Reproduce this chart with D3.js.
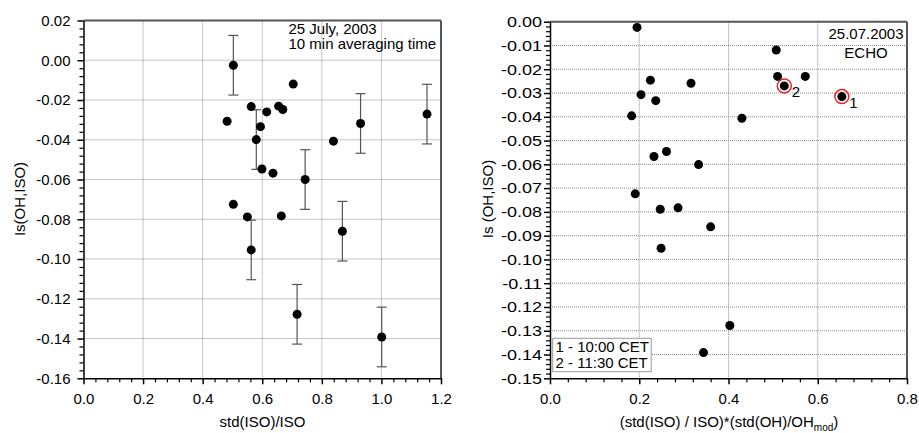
<!DOCTYPE html>
<html><head><meta charset="utf-8">
<script src="https://cdn.jsdelivr.net/npm/d3@7"></script>
<style>
body{margin:0;background:#fff;}
svg{display:block;font-family:"Liberation Sans",Arial,sans-serif;}
</style></head><body>
<svg id="c" width="919" height="433"></svg>
<script>
// ---- data ----
const leftX   = [0.503, 0.482, 0.563, 0.594, 0.580, 0.599, 0.615, 0.655, 0.669, 0.704, 0.636, 0.744, 0.839, 0.930, 1.153, 0.503, 0.550, 0.664, 0.563, 0.869, 0.717, 1.001];
const leftY   = [-0.0025, -0.0307, -0.0233, -0.0334, -0.0399, -0.0547, -0.0260, -0.0231, -0.0248, -0.0120, -0.0568, -0.0600, -0.0407, -0.0318, -0.0271, -0.0725, -0.0788, -0.0783, -0.0954, -0.0860, -0.1278, -0.1392];
const leftErr = [0.015, 0, 0, 0, 0.015, 0, 0, 0, 0, 0, 0, 0.015, 0, 0.015, 0.015, 0, 0, 0, 0.015, 0.015, 0.015, 0.015];

const rightX = [0.195, 0.507, 0.510, 0.572, 0.525, 0.654, 0.225, 0.316, 0.204, 0.237, 0.183, 0.430, 0.261, 0.233, 0.333, 0.191, 0.247, 0.287, 0.360, 0.249, 0.403, 0.344];
const rightY = [-0.0024, -0.0119, -0.0230, -0.0230, -0.0270, -0.0315, -0.0246, -0.0259, -0.0307, -0.0332, -0.0396, -0.0406, -0.0546, -0.0567, -0.0601, -0.0724, -0.0789, -0.0783, -0.0863, -0.0953, -0.1278, -0.1392];
const rightMarks = ["", "", "", "", "2", "1", "", "", "", "", "", "", "", "", "", "", "", "", "", "", "", ""];

const leftXTicks  = [0, 0.2, 0.4, 0.6, 0.8, 1.0, 1.2];
const leftYTicks  = [0.02, 0, -0.02, -0.04, -0.06, -0.08, -0.10, -0.12, -0.14, -0.16];
const rightXTicks = [0, 0.2, 0.4, 0.6, 0.8];
const rightYTicks = [0, -0.01, -0.02, -0.03, -0.04, -0.05, -0.06, -0.07, -0.08, -0.09, -0.10, -0.11, -0.12, -0.13, -0.14, -0.15];
const leftNote  = ["25 July, 2003", "10 min averaging time"];
const rightNote = ["25.07.2003", "ECHO"];
const legendLines = ["1 - 10:00 CET", "2 - 11:30 CET"];

// ---- drawing ----
const svg = d3.select("#c");
const FS = 15;
const fmt = d => (d < 0 ? "-" : "") + Math.abs(d).toFixed(2);
const fmt1 = d => (d < 0 ? "-" : "") + Math.abs(d).toFixed(1);

function minor(lo, hi, step, majors) {
  const out = [];
  const n = Math.round((hi - lo) / step);
  for (let i = 0; i <= n; i++) {
    const v = lo + i * step;
    if (!majors.some(m => Math.abs(m - v) < step / 10)) out.push(v);
  }
  return out;
}

function panel(cfg) {
  const x = d3.scaleLinear().domain(cfg.xd).range(cfg.xr);
  const y = d3.scaleLinear().domain(cfg.yd).range(cfg.yr);
  const g = svg.append("g");
  const [x0, x1] = cfg.xr, [y1, y0] = cfg.yr;

  // grid
  g.append("g").selectAll("line").data(cfg.xt.filter(v => v !== cfg.xd[0] && v !== cfg.xd[1])).join("line")
    .attr("x1", d => x(d)).attr("x2", d => x(d)).attr("y1", y0).attr("y2", y1)
    .attr("stroke", "#8a8a8a").attr("stroke-width", 1).attr("stroke-dasharray", "1,1");
  g.append("g").selectAll("line").data(cfg.yt.filter(v => v !== cfg.yd[0] && v !== cfg.yd[1])).join("line")
    .attr("y1", d => y(d)).attr("y2", d => y(d)).attr("x1", x0).attr("x2", x1)
    .attr("stroke", "#8a8a8a").attr("stroke-width", 1).attr("stroke-dasharray", "1,1");

  // frame top/right
  g.append("line").attr("x1", x0).attr("x2", x1).attr("y1", y0).attr("y2", y0).attr("stroke", "#555").attr("stroke-width", 2);
  g.append("line").attr("x1", x1).attr("x2", x1).attr("y1", y0).attr("y2", y1).attr("stroke", "#555").attr("stroke-width", 2);

  // minor ticks
  const xAxMinor = d3.axisBottom(x).tickValues(minor(cfg.xd[0], cfg.xd[1], cfg.xm, cfg.xt)).tickSize(4).tickFormat("");
  const yAxMinor = d3.axisLeft(y).tickValues(minor(cfg.yd[0], cfg.yd[1], cfg.ym, cfg.yt)).tickSize(4).tickFormat("");
  g.append("g").attr("transform", `translate(0,${y1})`).call(xAxMinor).call(a => a.select(".domain").remove()).selectAll("line").attr("stroke-width", 1.2);
  g.append("g").attr("transform", `translate(${x0},0)`).call(yAxMinor).call(a => a.select(".domain").remove()).selectAll("line").attr("stroke-width", 1.2);

  // major axes
  const xa = g.append("g").attr("transform", `translate(0,${y1})`)
    .call(d3.axisBottom(x).tickValues(cfg.xt).tickSize(6).tickSizeOuter(0).tickPadding(9).tickFormat(fmt1));
  const ya = g.append("g").attr("transform", `translate(${x0},0)`)
    .call(d3.axisLeft(y).tickValues(cfg.yt).tickSize(6).tickSizeOuter(0).tickPadding(cfg.ypad).tickFormat(fmt));
  [xa, ya].forEach(a => {
    a.select(".domain").attr("stroke-width", 1.5);
    a.selectAll(".tick line").attr("stroke-width", 1.5);
    a.selectAll("text").attr("font-size", FS).attr("font-family", '"Liberation Sans",Arial,sans-serif').attr("fill", "#000");
  });
  if (cfg.ystretch) {
    ya.selectAll("text").each(function () {
      const w = this.getComputedTextLength();
      d3.select(this).attr("textLength", w * cfg.ystretch).attr("lengthAdjust", "spacingAndGlyphs");
    });
  }
  return { g, x, y };
}

// Left panel
const L = panel({ xd: [0, 1.2], xr: [83.5, 441], yd: [-0.16, 0.02], yr: [378.3, 20.5],
  xt: leftXTicks, yt: leftYTicks, xm: 0.04, ym: 0.004, ypad: 7 });

L.g.append("g").selectAll("g").data(leftX.map((v, i) => i).filter(i => leftErr[i] > 0)).join("g").each(function (i) {
  const s = d3.select(this), cx = L.x(leftX[i]);
  const ya = L.y(leftY[i] + leftErr[i]), yb = L.y(leftY[i] - leftErr[i]);
  s.append("line").attr("x1", cx).attr("x2", cx).attr("y1", ya).attr("y2", yb).attr("stroke", "#555").attr("stroke-width", 1.2);
  s.append("line").attr("x1", cx - 5).attr("x2", cx + 5).attr("y1", ya).attr("y2", ya).attr("stroke", "#555").attr("stroke-width", 1.2);
  s.append("line").attr("x1", cx - 5).attr("x2", cx + 5).attr("y1", yb).attr("y2", yb).attr("stroke", "#555").attr("stroke-width", 1.2);
});
L.g.append("g").selectAll("circle").data(leftX.map((v, i) => i)).join("circle")
  .attr("cx", i => L.x(leftX[i])).attr("cy", i => L.y(leftY[i])).attr("r", 4.5).attr("fill", "#000");

L.g.append("text").attr("x", 288.5).attr("y", 34).attr("font-size", FS).text(leftNote[0]);
L.g.append("text").attr("x", 288.5).attr("y", 49).attr("font-size", FS).text(leftNote[1]);
L.g.append("text").attr("transform", "translate(25,199) rotate(-90)").attr("text-anchor", "middle").attr("font-size", FS).text("Is(OH,ISO)");
L.g.append("text").attr("x", 262.5).attr("y", 427).attr("text-anchor", "middle").attr("font-size", FS).text("std(ISO)/ISO");

// Right panel
const R = panel({ xd: [0, 0.8], xr: [550, 907], yd: [-0.15, 0], yr: [378.3, 21.7],
  xt: rightXTicks, yt: rightYTicks, xm: 0.04, ym: 0.002, ypad: 2, ystretch: 1.2 });

R.g.append("g").selectAll("circle").data(rightX.map((v, i) => i)).join("circle")
  .attr("cx", i => R.x(rightX[i])).attr("cy", i => R.y(rightY[i])).attr("r", 4.5).attr("fill", "#000");
const marked = rightX.map((v, i) => i).filter(i => rightMarks[i] !== "");
R.g.append("g").selectAll("circle").data(marked).join("circle")
  .attr("cx", i => R.x(rightX[i])).attr("cy", i => R.y(rightY[i])).attr("r", 7).attr("fill", "none").attr("stroke", "#e8262a").attr("stroke-width", 1.5);
R.g.append("g").selectAll("text").data(marked).join("text")
  .attr("x", i => R.x(rightX[i]) + 7.5).attr("y", i => R.y(rightY[i]) + 11.5).attr("font-size", FS).text(i => rightMarks[i]);

R.g.append("text").attr("x", 866).attr("y", 39).attr("text-anchor", "middle").attr("font-size", FS).text(rightNote[0]);
R.g.append("text").attr("x", 866).attr("y", 57.5).attr("text-anchor", "middle").attr("font-size", FS).text(rightNote[1]);

R.g.append("rect").attr("x", 552.7).attr("y", 338.3).attr("width", 98.5).attr("height", 33.4).attr("fill", "#fff").attr("stroke", "#999").attr("stroke-width", 1);
legendLines.forEach((t, k) => R.g.append("text").attr("x", 555.5).attr("y", 352 + 16 * k).attr("font-size", FS).text(t));

R.g.append("text").attr("transform", "translate(493,199) rotate(-90)").attr("text-anchor", "middle").attr("font-size", FS).text("Is (OH,ISO)");
const xl = R.g.append("text").attr("x", 729).attr("y", 427).attr("text-anchor", "middle").attr("font-size", FS);
xl.append("tspan").text("(std(ISO) / ISO)*(std(OH)/OH");
xl.append("tspan").attr("font-size", 10).attr("dy", 4).text("mod");
xl.append("tspan").attr("dy", -4).text(")");
</script>
</body></html>
